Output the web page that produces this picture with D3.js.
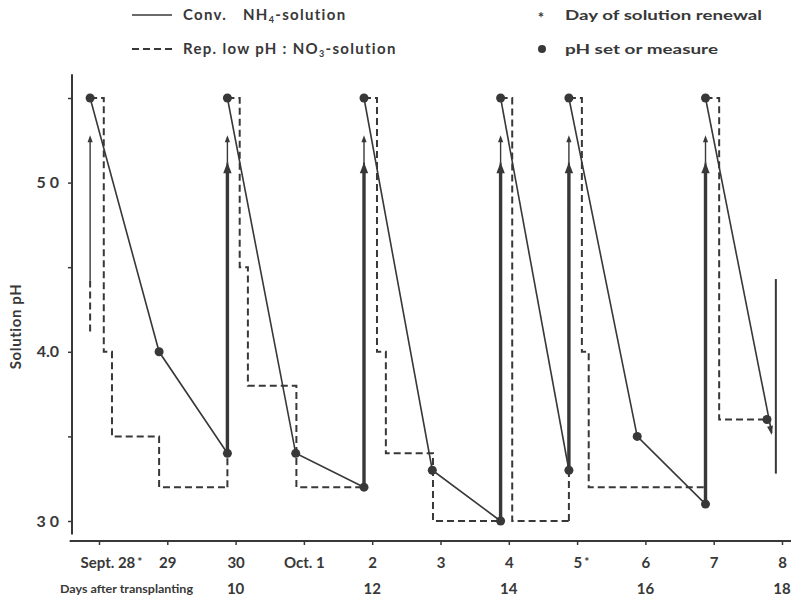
<!DOCTYPE html>
<html>
<head>
<meta charset="utf-8">
<script src="https://cdn.jsdelivr.net/npm/d3@7"></script>
<style>
  body { margin: 0; background: #fff; }
  svg { display: block; font-family: Lato, "DejaVu Sans", sans-serif; }
</style>
</head>
<body>
<div id="chart"></div>
<script>
// time axis: days counted from Sept. 28 (= 0)
const dayTicks = [0, 1, 2, 3, 4, 5, 6, 7, 8, 9, 10];
const dayLabels = ['Sept. 28', '29', '30', 'Oct. 1', '2', '3', '4', '5', '6', '7', '8'];
const renewalDays = [0, 7];
const dapTicks = [2, 4, 6, 8, 10];
const dapLabels = ['10', '12', '14', '16', '18'];
const phTicks = [3.0, 3.5, 4.0, 4.5, 5.0, 5.5];
const phLabels = { 3: '3 0', 4: '4.0', 5: '5 0' };

// Conv. NH4-solution, one run per period between pH settings: [day, pH]
const nh4Runs = [
  [[-0.13, 5.5], [0.88, 4.0], [1.88, 3.4]],
  [[1.88, 5.5], [2.88, 3.4], [3.88, 3.2]],
  [[3.88, 5.5], [4.88, 3.3], [5.88, 3.0]],
  [[5.88, 5.5], [6.88, 3.3]],
  [[6.88, 5.5], [7.88, 3.5], [8.88, 3.1]]
];
const nh4Last = [[8.88, 5.5], [9.85, 3.52]];

// Rep. low pH : NO3-solution, step runs (pH held until next day value)
const no3Runs = [
  [[-0.13, 5.5], [0.07, 4.0], [0.19, 3.5], [0.88, 3.2], [1.88, 3.2]],
  [[1.88, 5.5], [2.06, 4.5], [2.18, 3.8], [2.89, 3.2], [3.88, 3.2]],
  [[3.88, 5.5], [4.07, 4.0], [4.20, 3.4], [4.89, 3.0], [5.88, 3.0]],
  [[5.88, 5.5], [6.05, 3.0], [6.88, 3.0]],
  [[6.88, 5.5], [7.07, 4.0], [7.17, 3.2], [8.88, 3.2]],
  [[8.88, 5.5], [9.08, 3.6], [9.78, 3.6]]
];
const no3EndDot = [9.78, 3.6];

// pH raising arrows at each setting
const setDays = [1.88, 3.88, 5.88, 6.88, 8.88];
const setNh4From = [3.4, 3.2, 3.0, 3.3, 3.1];
const setNo3From = [3.2, 3.2, 3.0, 3.0, 3.2];
const thickTop = 5.12;
const thinTop = 5.28;
const firstArrow = { day: -0.13, from: 4.12, dashTo: 4.42 };

// range bar at the end
const rangeBar = { day: 9.91, lo: 3.28, hi: 4.43 };

const W = 791, H = 599;
const ink = '#383838';

const svg = d3.select('#chart').append('svg')
  .attr('width', W).attr('height', H)
  .attr('viewBox', `0 0 ${W} ${H}`);
svg.append('rect').attr('width', W).attr('height', H).attr('fill', '#fff');

const x = d3.scaleLinear().domain([0, 10]).range([99, 782]);
const y = d3.scaleLinear().domain([3, 5.5]).range([521, 98]);
const axisY = 541, axisX = 72;

// ---- axes
svg.append('line')
  .attr('x1', x(-0.43)).attr('x2', x(10.3))
  .attr('y1', axisY).attr('y2', axisY)
  .attr('stroke', ink).attr('stroke-width', 2);
svg.append('line')
  .attr('x1', axisX).attr('x2', axisX)
  .attr('y1', y(5.64)).attr('y2', y(2.92))
  .attr('stroke', ink).attr('stroke-width', 2);

const gx = svg.append('g').attr('transform', `translate(0,${axisY})`)
  .call(d3.axisBottom(x).tickValues(dayTicks).tickSize(4).tickFormat((d, i) => dayLabels[i]));
gx.select('.domain').remove();
gx.selectAll('.tick line').attr('stroke', ink).attr('stroke-width', 1.5);
gx.selectAll('.tick text')
  .attr('y', 22).attr('dy', '0.35em')
  .attr('fill', ink).attr('font-size', 15).attr('font-weight', 700)
  .attr('font-family', 'Lato, sans-serif')
  .each(function (d) {
    const t = d3.select(this);
    if (d === 0) t.attr('text-anchor', 'start').attr('x', -19);
    if (renewalDays.includes(d)) {
      const lbl = dayLabels[dayTicks.indexOf(d)];
      t.text(null);
      t.append('tspan').text(lbl);
      t.append('tspan').attr('font-size', 12).attr('dy', '-0.2em').attr('dx', 2).text('*');
    }
  });
gx.selectAll('.tick').filter(d => d === 7).select('text').attr('text-anchor', 'start').attr('x', -4);

// days after transplanting row
const gd = svg.append('g').attr('transform', `translate(0,${axisY})`);
gd.append('text').attr('x', 60).attr('y', 48).attr('dy', '0.35em')
  .attr('fill', ink).attr('font-size', 12).attr('font-weight', 700)
  .attr('textLength', 133).attr('lengthAdjust', 'spacingAndGlyphs')
  .text('Days after transplanting');
gd.selectAll('.dap').data(dapTicks).join('text')
  .attr('x', d => x(d)).attr('y', 48).attr('dy', '0.35em')
  .attr('text-anchor', 'middle')
  .attr('fill', ink).attr('font-size', 15).attr('font-weight', 700)
  .text((d, i) => dapLabels[i]);

const gy = svg.append('g').attr('transform', `translate(${axisX},0)`)
  .call(d3.axisLeft(y).tickValues(phTicks).tickSize(4).tickPadding(9).tickFormat(d => phLabels[d] || ''));
gy.select('.domain').remove();
gy.selectAll('.tick line').attr('stroke', ink).attr('stroke-width', 1.5);
gy.selectAll('.tick text')
  .attr('fill', ink).attr('font-size', 16).attr('font-weight', 700)
  .attr('font-family', 'Lato, sans-serif');

svg.append('text')
  .attr('transform', `translate(16,${y(4.15)}) rotate(-90)`)
  .attr('text-anchor', 'middle').attr('dy', '0.35em')
  .attr('fill', ink).attr('font-size', 15).attr('font-weight', 700)
  .attr('letter-spacing', 0.6)
  .text('Solution pH');

// ---- helpers
function head(x1, y1, x2, y2, len, hw) {
  const a = Math.atan2(y2 - y1, x2 - x1);
  const bx = x2 - len * Math.cos(a), by = y2 - len * Math.sin(a);
  const px = -Math.sin(a) * hw, py = Math.cos(a) * hw;
  return `M${x2},${y2}L${bx + px},${by + py}L${bx - px},${by - py}Z`;
}
const line = d3.line().x(d => x(d[0])).y(d => y(d[1]));
const step = d3.line().x(d => x(d[0])).y(d => y(d[1])).curve(d3.curveStepAfter);

const plot = svg.append('g');

// NO3 dashed steps
plot.selectAll('.no3').data(no3Runs).join('path')
  .attr('d', step).attr('fill', 'none')
  .attr('stroke', ink).attr('stroke-width', 2).attr('stroke-dasharray', '7,4');

// thin arrows (NO3 raise), dashed lower part then thin solid to tip
const thin = setDays.map((d, i) => ({ day: d, from: setNo3From[i], dashTo: thickTop }));
thin.unshift(firstArrow);
plot.selectAll('.thinDash').data(thin).join('line')
  .attr('x1', d => x(d.day)).attr('x2', d => x(d.day))
  .attr('y1', d => y(d.from)).attr('y2', d => y(d.dashTo))
  .attr('stroke', ink).attr('stroke-width', 2).attr('stroke-dasharray', '7,4');
plot.selectAll('.thinSolid').data(thin).join('line')
  .attr('x1', d => x(d.day)).attr('x2', d => x(d.day))
  .attr('y1', d => y(d.dashTo)).attr('y2', d => y(thinTop) + 5)
  .attr('stroke', ink).attr('stroke-width', 1.4);
plot.selectAll('.thinHead').data(thin).join('path')
  .attr('d', d => head(x(d.day), y(d.from), x(d.day), y(thinTop), 7, 2.6))
  .attr('fill', ink);

// thick arrows (NH4 raise)
plot.selectAll('.thick').data(setDays).join('line')
  .attr('x1', d => x(d)).attr('x2', d => x(d))
  .attr('y1', (d, i) => y(setNh4From[i])).attr('y2', y(thickTop) + 8)
  .attr('stroke', ink).attr('stroke-width', 3.4);
plot.selectAll('.thickHead').data(setDays).join('path')
  .attr('d', (d, i) => head(x(d), y(setNh4From[i]), x(d), y(thickTop), 11, 4.2))
  .attr('fill', ink);

// NH4 solid runs
plot.selectAll('.nh4').data(nh4Runs).join('path')
  .attr('d', line).attr('fill', 'none')
  .attr('stroke', ink).attr('stroke-width', 1.6);
plot.append('path').attr('d', line(nh4Last)).attr('fill', 'none')
  .attr('stroke', ink).attr('stroke-width', 1.6);
{
  const [a, b] = nh4Last;
  plot.append('path')
    .attr('d', head(x(a[0]), y(a[1]), x(b[0]), y(b[1]) + 2, 9, 3))
    .attr('fill', ink);
}

// range bar
plot.append('line')
  .attr('x1', x(rangeBar.day)).attr('x2', x(rangeBar.day))
  .attr('y1', y(rangeBar.hi)).attr('y2', y(rangeBar.lo))
  .attr('stroke', ink).attr('stroke-width', 2);

// dots
const dots = nh4Runs.flat().concat([nh4Last[0], no3EndDot]);
plot.selectAll('.dot').data(dots).join('circle')
  .attr('cx', d => x(d[0])).attr('cy', d => y(d[1])).attr('r', 4.5)
  .attr('fill', ink);

// ---- legend
const lg = svg.append('g').attr('fill', ink).attr('font-weight', 700).attr('font-size', 15);
lg.append('line').attr('x1', 132).attr('x2', 172).attr('y1', 15).attr('y2', 15)
  .attr('stroke', ink).attr('stroke-width', 1.5);
lg.append('line').attr('x1', 132).attr('x2', 172).attr('y1', 49).attr('y2', 49)
  .attr('stroke', ink).attr('stroke-width', 2).attr('stroke-dasharray', '7,4');
const t1 = lg.append('text').attr('x', 183).attr('y', 15).attr('dy', '0.35em')
  .attr('letter-spacing', 1.3);
t1.append('tspan').text('Conv.');
t1.append('tspan').attr('x', 243).text('NH');
t1.append('tspan').attr('font-size', 9).attr('dy', 3).text('4');
t1.append('tspan').attr('dy', -3).text('-solution');
const t2 = lg.append('text').attr('x', 183).attr('y', 49).attr('dy', '0.35em')
  .attr('letter-spacing', 1.3);
t2.append('tspan').text('Rep. low pH : NO');
t2.append('tspan').attr('font-size', 9).attr('dy', 3).text('3');
t2.append('tspan').attr('dy', -3).text('-solution');

lg.append('text').attr('x', 541).attr('y', 18).attr('dy', '0.35em')
  .attr('text-anchor', 'middle').attr('font-size', 15).text('*');
lg.append('text').attr('x', 565).attr('y', 15).attr('dy', '0.35em')
  .attr('font-size', 14)
  .attr('textLength', 197).attr('lengthAdjust', 'spacingAndGlyphs')
  .text('Day of solution renewal');
lg.append('circle').attr('cx', 542).attr('cy', 49).attr('r', 4);
lg.append('text').attr('x', 565).attr('y', 49).attr('dy', '0.35em')
  .attr('font-size', 14)
  .attr('textLength', 153).attr('lengthAdjust', 'spacingAndGlyphs')
  .text('pH set or measure');
</script>
</body>
</html>
